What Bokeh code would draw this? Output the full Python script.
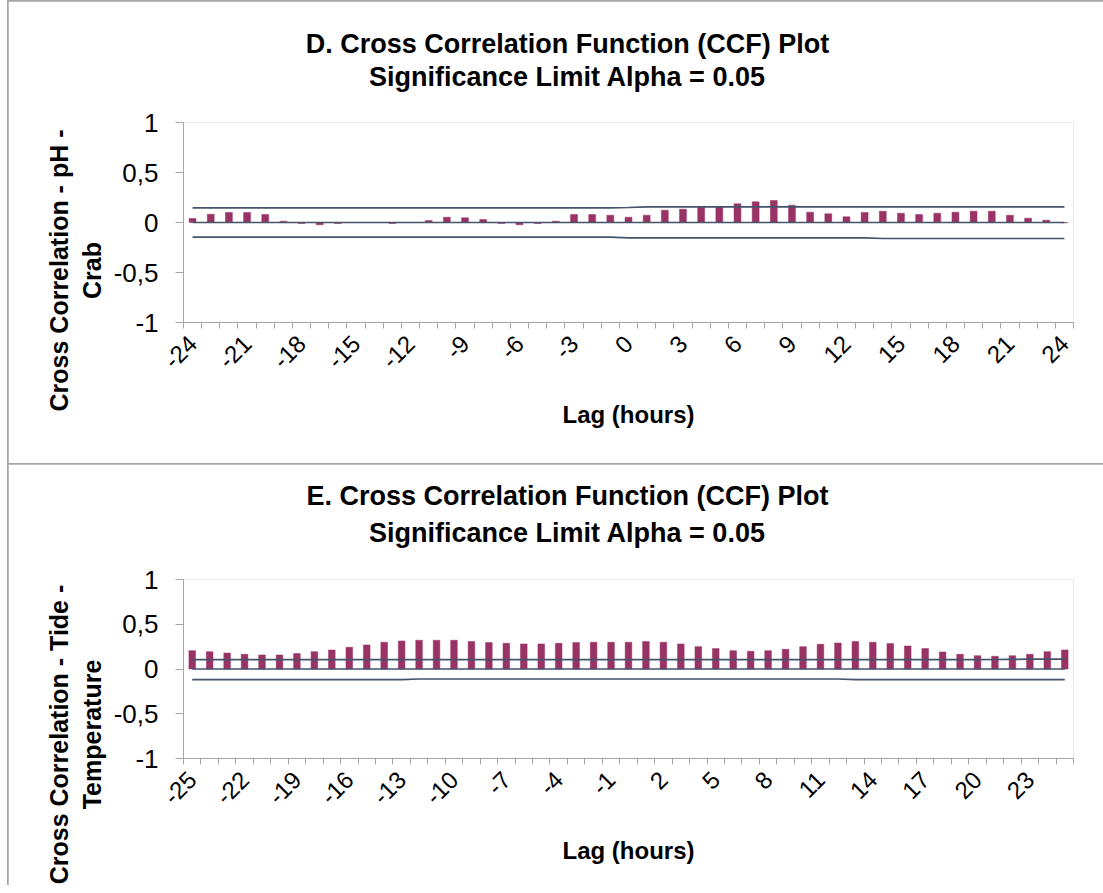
import math
from bokeh.plotting import figure
from bokeh.models import Range1d, FixedTicker, Label
from bokeh.layouts import column
from bokeh.embed import file_html
from bokeh.resources import INLINE

# ---------------- data: panel D (pH - Crab) ----------------
lags_d = [-24, -23, -22, -21, -20, -19, -18, -17, -16, -15, -14, -13, -12, -11, -10,
          -9, -8, -7, -6, -5, -4, -3, -2, -1, 0, 1, 2, 3, 4, 5, 6, 7, 8, 9, 10,
          11, 12, 13, 14, 15, 16, 17, 18, 19, 20, 21, 22, 23, 24]
ccf_d = [0.040, 0.083, 0.100, 0.100, 0.080, 0.013, -0.010, -0.023, -0.010, 0.000,
         0.000, -0.010, 0.000, 0.020, 0.053, 0.047, 0.030, -0.010, -0.023, -0.010,
         0.013, 0.080, 0.080, 0.073, 0.053, 0.073, 0.123, 0.133, 0.157, 0.157,
         0.187, 0.207, 0.220, 0.173, 0.103, 0.087, 0.057, 0.100, 0.113, 0.093,
         0.080, 0.093, 0.103, 0.113, 0.113, 0.073, 0.043, 0.023, -0.003]
upper_d = [0.147, 0.147, 0.147, 0.147, 0.147, 0.147, 0.147, 0.147, 0.147, 0.147,
           0.147, 0.147, 0.147, 0.147, 0.147, 0.147, 0.147, 0.147, 0.147, 0.147,
           0.147, 0.147, 0.147, 0.147, 0.150, 0.156, 0.156, 0.156, 0.156, 0.156,
           0.156, 0.156, 0.156, 0.156, 0.156, 0.156, 0.156, 0.156, 0.156, 0.156,
           0.156, 0.156, 0.156, 0.156, 0.156, 0.156, 0.156, 0.156, 0.156]
lower_d = [-0.147, -0.147, -0.147, -0.147, -0.147, -0.147, -0.147, -0.147, -0.147, -0.147,
           -0.147, -0.147, -0.147, -0.147, -0.147, -0.147, -0.147, -0.147, -0.147, -0.147,
           -0.147, -0.147, -0.147, -0.147, -0.153, -0.153, -0.153, -0.153, -0.153, -0.153,
           -0.153, -0.153, -0.153, -0.153, -0.153, -0.153, -0.153, -0.153, -0.160, -0.160,
           -0.160, -0.160, -0.160, -0.160, -0.160, -0.160, -0.160, -0.160, -0.160]
xticks_d = [-24, -21, -18, -15, -12, -9, -6, -3, 0, 3, 6, 9, 12, 15, 18, 21, 24]

# ---------------- data: panel E (Tide - Temperature) ----------------
lags_e = [-25, -24, -23, -22, -21, -20, -19, -18, -17, -16, -15, -14, -13, -12, -11,
          -10, -9, -8, -7, -6, -5, -4, -3, -2, -1, 0, 1, 2, 3, 4, 5, 6, 7, 8, 9,
          10, 11, 12, 13, 14, 15, 16, 17, 18, 19, 20, 21, 22, 23, 24, 25]
ccf_e = [0.205, 0.194, 0.179, 0.164, 0.157, 0.157, 0.172, 0.194, 0.213, 0.243,
         0.269, 0.299, 0.313, 0.321, 0.321, 0.321, 0.306, 0.295, 0.287, 0.280,
         0.280, 0.287, 0.295, 0.299, 0.299, 0.299, 0.306, 0.299, 0.280, 0.250,
         0.228, 0.205, 0.198, 0.205, 0.220, 0.250, 0.276, 0.291, 0.306, 0.299,
         0.284, 0.257, 0.228, 0.190, 0.164, 0.149, 0.142, 0.149, 0.164, 0.194, 0.213]
upper_e = [0.104, 0.104, 0.104, 0.104, 0.104, 0.104, 0.104, 0.104, 0.104, 0.104,
           0.104, 0.104, 0.104, 0.104, 0.104, 0.104, 0.104, 0.104, 0.104, 0.104,
           0.104, 0.104, 0.104, 0.104, 0.104, 0.104, 0.104, 0.104, 0.104, 0.104,
           0.104, 0.104, 0.104, 0.104, 0.104, 0.104, 0.104, 0.104, 0.104, 0.104,
           0.104, 0.104, 0.104, 0.104, 0.104, 0.104, 0.106, 0.108, 0.110, 0.110, 0.110]
lower_e = [-0.119, -0.119, -0.119, -0.119, -0.119, -0.119, -0.119, -0.119, -0.119, -0.119,
           -0.119, -0.119, -0.119, -0.112, -0.112, -0.112, -0.112, -0.112, -0.112, -0.112,
           -0.112, -0.112, -0.112, -0.112, -0.112, -0.112, -0.112, -0.112, -0.112, -0.112,
           -0.112, -0.112, -0.112, -0.112, -0.112, -0.112, -0.112, -0.112, -0.119, -0.119,
           -0.119, -0.119, -0.119, -0.119, -0.119, -0.119, -0.119, -0.119, -0.119, -0.119, -0.119]
xticks_e = [-25, -22, -19, -16, -13, -10, -7, -4, -1, 2, 5, 8, 11, 14, 17, 20, 23]

yticks = [-1, -0.5, 0, 0.5, 1]
ytick_labels = ["-1", "-0,5", "0", "0,5", "1"]

title_d = ["D. Cross Correlation Function (CCF) Plot", "Significance Limit Alpha = 0.05"]
title_e = ["E. Cross Correlation Function (CCF) Plot", "Significance Limit Alpha = 0.05"]
ytitle_d = ["Cross Correlation - pH -", "Crab"]
ytitle_e = ["Cross Correlation - Tide -", "Temperature"]
xtitle = "Lag (hours)"

BAR = "#993366"
LINE = "#44546A"
AXIS = "#a6a6a6"
FONT = "Liberation Sans"

FIG_W = 1095
BL, BR = 175, 30          # left / right borders (px)
FRAME_W = FIG_W - BL - BR


def panel(lags, ccf, upper, lower, xticks, titles, ytitles, height, top, bottom,
          title_px, title_lh, ytitle_px, margin):
    x0, x1 = lags[0] - 0.5, lags[-1] + 0.5
    frame_h = height - top - bottom

    # pixel offsets (relative to the frame's top-left corner) -> data coordinates
    def dx(px):
        return x0 + (x1 - x0) * px / FRAME_W

    def dy(py):
        return 1 - 2 * py / frame_h

    p = figure(width=FIG_W, height=height, title=None,
               x_range=Range1d(x0, x1), y_range=Range1d(-1, 1),
               output_backend="svg", toolbar_location=None,
               min_border_left=BL, min_border_right=BR,
               min_border_top=top, min_border_bottom=bottom, margin=margin)
    p.outline_line_color = None
    p.grid.visible = False
    p.background_fill_color = "white"
    p.border_fill_color = "white"

    p.vbar(x=lags, top=ccf, bottom=0, width=0.38, fill_color=BAR, line_color=BAR,
           line_width=0.5)
    p.line(x=lags, y=upper, line_color=LINE, line_width=1.7)
    p.line(x=lags, y=lower, line_color=LINE, line_width=1.7)
    p.line(x=lags, y=0, line_color=LINE, line_width=1.5)

    boundaries = [l - 0.5 for l in lags] + [lags[-1] + 0.5]
    xa = p.xaxis[0]
    xa.ticker = FixedTicker(ticks=xticks, minor_ticks=boundaries)
    xa.major_label_overrides = {t: str(t) for t in xticks}
    xa.major_tick_line_color = None
    xa.minor_tick_out = 6
    xa.minor_tick_in = 0
    xa.minor_tick_line_color = AXIS
    xa.axis_line_color = AXIS
    xa.major_label_orientation = math.pi / 4
    xa.major_label_text_font = FONT
    xa.major_label_text_font_size = "24px"
    xa.major_label_text_color = "black"
    xa.major_label_standoff = 11
    xa.axis_label = xtitle
    xa.axis_label_text_font = FONT
    xa.axis_label_text_font_style = "bold"
    xa.axis_label_text_font_size = "24px"
    xa.axis_label_text_color = "black"
    xa.axis_label_standoff = 22

    ya = p.yaxis[0]
    ya.ticker = FixedTicker(ticks=yticks)
    ya.major_label_overrides = dict(zip(yticks, ytick_labels))
    ya.major_tick_out = 8
    ya.major_tick_in = 0
    ya.major_tick_line_color = AXIS
    ya.minor_tick_line_color = None
    ya.axis_line_color = AXIS
    ya.major_label_text_font = FONT
    ya.major_label_text_font_size = "26px"
    ya.major_label_text_color = "black"
    ya.major_label_standoff = 17

    # chart title (two centred lines) placed in the top side panel
    p.add_layout(Label(x=dx(title_px[0]), y=dy(title_px[1]), text="\n".join(titles),
                       text_align="center", text_baseline="middle",
                       text_font=FONT, text_font_size="27px", text_font_style="bold",
                       text_color="black", text_line_height=title_lh), "above")
    # vertical axis title (two centred lines, rotated) placed in the left side panel
    p.add_layout(Label(x=dx(ytitle_px[0]), y=dy(ytitle_px[1]), text="\n".join(ytitles),
                       angle=math.pi / 2, text_align="center", text_baseline="middle",
                       text_font=FONT, text_font_size="25px", text_font_style="bold",
                       text_color="black", text_line_height=1.2), "left")
    return p


# title / y-title centres given in pixels relative to each frame's top-left corner
p1 = panel(lags_d, ccf_d, upper_d, lower_d, xticks_d, title_d, ytitle_d,
           462, 121, 141, (384, -62), 1.13, (-108, 148), (1, 0, 0, 1))
p2 = panel(lags_e, ccf_e, upper_e, lower_e, xticks_e, title_e, ytitle_e,
           421, 115, 127, (384, -65), 1.22, (-108, 155), (0, 0, 0, 1))

layout = column(p1, p2, spacing=1, margin=(0, 0, 0, 7),
                styles={"background-color": "#a6a6a6"})

open("out.html", "w").write(file_html(layout, INLINE))
